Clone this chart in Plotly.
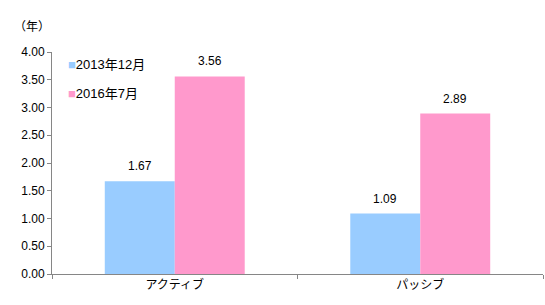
import plotly.graph_objects as go

categories = ["アクティブ", "パッシブ"]
series_names = ["2013年12月", "2016年7月"]
values_2013 = [1.67, 1.09]
values_2016 = [3.56, 2.89]
colors = ["#99CCFF", "#FF99CC"]
y_ticks = [0, 0.5, 1, 1.5, 2, 2.5, 3, 3.5, 4]

FONT = "Liberation Sans, Arial, Noto Sans CJK JP, sans-serif"
bargap = 0.43
bw = (1 - bargap) / 2

fig = go.Figure()
series = [values_2013, values_2016]
for k, (name, vals, col) in enumerate(zip(series_names, series, colors)):
    fig.add_trace(go.Bar(x=categories, y=vals, name=name, marker=dict(color=col, line=dict(width=0)),
                         showlegend=False))

annotations = []
for k, vals in enumerate(series):
    off = (k - 0.5) * bw
    for i, v in enumerate(vals):
        annotations.append(dict(x=i + off, y=v, xref="x", yref="y", text=f"{v:.2f}", showarrow=False,
                                yshift=15, font=dict(size=12, color="#000000", family=FONT)))

# legend drawn as annotations
for k, (name, col) in enumerate(zip(series_names, colors)):
    annotations.append(dict(x=(66 - 52) / 491, y=(274 - (65 + 28 * k)) / 222, xref="paper", yref="paper",
                            xanchor="left", yanchor="middle", showarrow=False,
                            text=f'<span style="color:{col}">■</span>{name}',
                            font=dict(size=13, color="#000000", family=FONT)))

annotations.append(dict(x=(12 - 52) / 491, y=(274 - 27) / 222, xref="paper", yref="paper",
                        xanchor="left", yanchor="middle", showarrow=False, text="（年）",
                        font=dict(size=12, color="#000000", family=FONT)))

fig.update_layout(
    width=545, height=305,
    margin=dict(l=52, r=2, t=52, b=31),
    paper_bgcolor="white", plot_bgcolor="white",
    barmode="group", bargap=bargap, bargroupgap=0,
    font=dict(family=FONT, size=12, color="#000000"),
    annotations=annotations,
    xaxis=dict(type="category", showline=True, linecolor="#868686", linewidth=1,
               ticks="outside", tickson="boundaries", ticklen=4, tickcolor="#868686",
               showgrid=False, tickfont=dict(size=12), zeroline=False),
    yaxis=dict(range=[0, 4], tickvals=y_ticks, tickformat=".2f", showline=True, linecolor="#868686",
               linewidth=1, ticks="outside", ticklen=4, tickcolor="#868686", showgrid=False,
               zeroline=False, tickfont=dict(size=12)),
)

fig.write_html("out.html")
